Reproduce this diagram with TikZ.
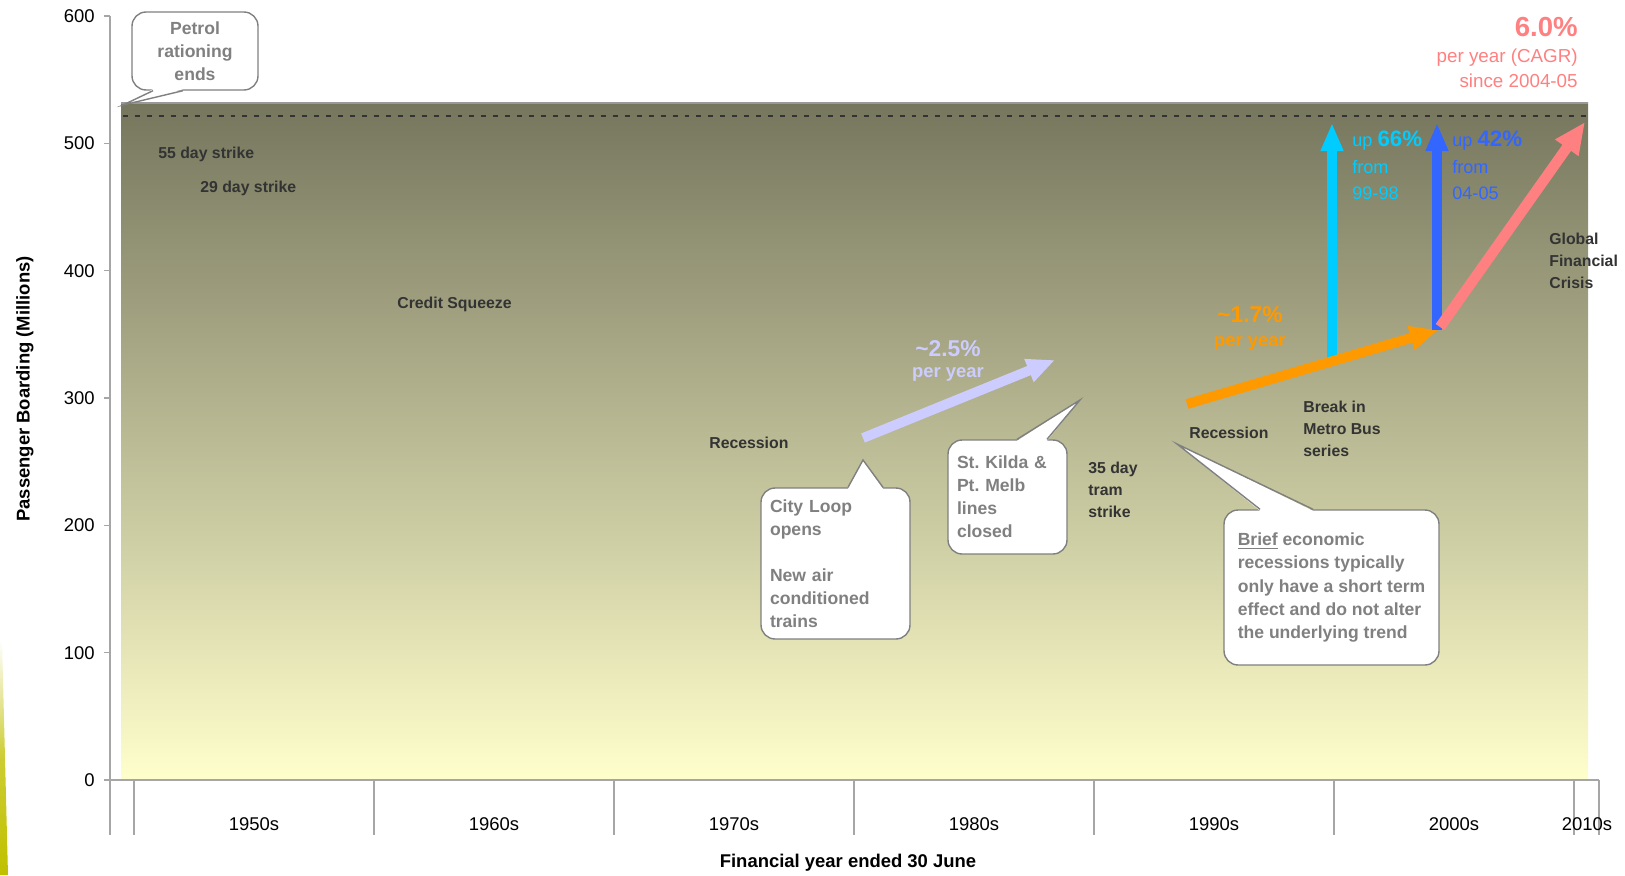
\documentclass[tikz,border=0pt]{standalone}
\usepackage{fontspec}
\setmainfont{Liberation Sans}
\usepackage{tikz}
\usetikzlibrary{arrows.meta,positioning}
\definecolor{darktext}{HTML}{333333}
\definecolor{calloutgray}{HTML}{808080}
\definecolor{axisgray}{HTML}{A6A6A6}
\definecolor{shadetop}{HTML}{76765E}
\definecolor{shadebot}{HTML}{FFFFCC}
\definecolor{ratelav}{HTML}{CCCCFF}
\definecolor{rateorange}{HTML}{FF9900}
\definecolor{ratecyan}{HTML}{00CCFF}
\definecolor{rateblue}{HTML}{3366FF}
\definecolor{ratepink}{HTML}{FF8080}
\definecolor{stripyellow}{HTML}{C0C000}

\begin{document}
\begin{tikzpicture}[x=0.02cm,y=-0.02cm,node distance=0.5cm,on grid,
  event/.style={font=\fontsize{9}{12.5}\selectfont\bfseries,text=darktext,align=left,anchor=north west,inner sep=0pt},
  callout/.style={draw=calloutgray,line width=0.8pt,fill=white,rounded corners=8pt,font=\fontsize{10}{13.1}\selectfont\bfseries,text=calloutgray,align=left},
  pointer/.style={draw=calloutgray,line width=0.8pt},
  ticklabel/.style={font=\fontsize{10.5}{12}\selectfont,inner sep=0pt},
  axistitle/.style={font=\fontsize{10.5}{12}\selectfont\bfseries,inner sep=0pt},
  trend/.style={line width=5.6pt,-{Triangle[length=16pt,width=13pt]}},
  rate/.style={font=\fontsize{13}{14}\selectfont\bfseries,inner sep=0pt},
  peryear/.style={font=\fontsize{10.5}{12}\selectfont\bfseries,inner sep=0pt},
  growth/.style={font=\fontsize{10.3}{15}\selectfont,align=left,anchor=north west,inner sep=0pt}]

\useasboundingbox (0,0) rectangle (1625,875);

% plot area
\shade[top color=shadetop,bottom color=shadebot] (121,103) rectangle (1588,780);
\draw[gray!80,line width=0.6pt] (121,103) -- (1588,103);
\draw[darktext,line width=1.6pt,dash pattern=on 2.8pt off 4pt] (123,116) -- (1588,116);
\shade[top color=white,bottom color=stripyellow,middle color=stripyellow!80] (0,640) -- (2,640) -- (8,875) -- (0,875) -- cycle;

% axes
\draw[axisgray,line width=0.85pt] (110,16) -- (110,835) (110,780) -- (1599,780);
\foreach \v in {0,100,...,600}{
  \draw[axisgray,line width=0.85pt] (104,{780-1.2733*\v}) -- (110,{780-1.2733*\v});
  \node[ticklabel,anchor=east] (tick\v) at (95,{780-1.2733*\v}) {\v};
}
\foreach \xs in {134,374,...,1574,1599}
  \draw[axisgray,line width=0.85pt] (\xs,780) -- (\xs,835);
\foreach \lbl/\xc in {1950s/254,1960s/494,1970s/734,1980s/974,1990s/1214,2000s/1454,2010s/1587}
  \node[ticklabel] (dec\lbl) at (\xc,824) {\lbl};
\node[axistitle] (xtitle) at (848,863) {Financial year ended 30 June};
\node[axistitle,rotate=90] (ytitle) at (25,389) {Passenger Boarding (Millions)};

% events
\node[event] (strike55) at (158,147) {55 day strike};
\node[event] (strike29) at (200,181) {29 day strike};
\node[event] (credit) at (397,297) {Credit Squeeze};
\node[event] (recess1) at (709,437) {Recession};
\node[event] (tram) at (1088,462) {35 day\\tram\\strike};
\node[event] (recess2) at (1189,427) {Recession};
\node[event] (metrobus) at (1303,401) {Break in\\Metro Bus\\series};
\node[event] (gfc) at (1549,233) {Global\\Financial\\Crisis};

% callouts
\node[callout,minimum width=2.52cm,minimum height=1.56cm,align=center] (petrol) at (195,51) {Petrol\\rationing\\ends};
\node[callout,text width=2.62cm,inner xsep=0.18cm,minimum height=3.02cm] (cityloop) at (835.5,563.5) {City Loop\\opens\\[13.1pt]New air\\conditioned\\trains};
\node[callout,text width=2.02cm,inner xsep=0.18cm,minimum height=2.28cm] (stkilda) at (1007.5,497) {St.\ Kilda \&\\Pt.\ Melb\\lines\\closed};
\node[callout,minimum width=4.3cm,minimum height=3.1cm] (brief) at (1331.5,587.5) {\underline{Brief} economic\\recessions typically\\only have a short term\\effect and do not alter\\the underlying trend};

\coordinate (petroltip) at (123,105);
\coordinate (citytip) at (863,460);
\coordinate (kildatip) at (1080,400);
\coordinate (brieftip) at (1177,444);
\fill[white] ([xshift=-0.84cm,yshift=0.03cm]petrol.south) -- (petroltip) -- ([xshift=-0.24cm,yshift=0.03cm]petrol.south) -- cycle;
\draw[pointer] ([xshift=-0.84cm]petrol.south) -- (petroltip) -- ([xshift=-0.24cm]petrol.south);
\fill[white] ([xshift=0.25cm,yshift=-0.03cm]cityloop.north) -- (citytip) -- ([xshift=0.95cm,yshift=-0.03cm]cityloop.north) -- cycle;
\draw[pointer] ([xshift=0.25cm]cityloop.north) -- (citytip) -- ([xshift=0.95cm]cityloop.north);
\fill[white] ([xshift=0.19cm,yshift=-0.03cm]stkilda.north) -- (kildatip) -- ([xshift=0.79cm,yshift=-0.03cm]stkilda.north) -- cycle;
\draw[pointer] ([xshift=0.19cm]stkilda.north) -- (kildatip) -- ([xshift=0.79cm]stkilda.north);
\fill[white] ([xshift=-1.43cm,yshift=-0.03cm]brief.north) -- (brieftip) -- ([xshift=-0.37cm,yshift=-0.03cm]brief.north) -- cycle;
\draw[pointer] ([xshift=-1.43cm]brief.north) -- (brieftip) -- ([xshift=-0.37cm]brief.north);

% trends
\coordinate (lav0) at (863,438);
\coordinate (lav1) at (1055,360);
\coordinate (orange0) at (1187,404);
\coordinate (orange1) at (1438,330);
\coordinate (cyan0) at (1332,360);
\coordinate (cyan1) at (1332,123);
\coordinate (blue0) at (1437,330);
\coordinate (blue1) at (1437,123);
\coordinate (pink0) at (1440,327);
\coordinate (pink1) at (1585,122);
\draw[trend,ratelav] (lav0) -- (lav1);
\draw[trend,ratecyan,-{Triangle[length=16pt,width=12pt]}] (cyan0) -- (cyan1);
\draw[trend,rateorange] (orange0) -- (orange1);
\draw[trend,rateblue,-{Triangle[length=16pt,width=12pt]}] (blue0) -- (blue1);
\draw[trend,ratepink,line width=6pt,-{Triangle[length=18pt,width=15pt]}] (pink0) -- (pink1);

\node[rate,text=ratelav] (lavrate) at (948,349) {\textasciitilde2.5\%};
\node[peryear,text=ratelav,below=of lavrate] (lavper) {per year};
\node[rate,text=rateorange] (orangerate) at (1250,315) {\textasciitilde1.7\%};
\node[peryear,text=rateorange,below=0.56cm of orangerate] (orangeper) {per year};
\node[growth,text=ratecyan] (cyanup) at (1352,131) {up {\fontsize{12.7}{15}\selectfont\bfseries 66\%}\\from\\99-98};
\node[growth,text=rateblue] (blueup) at (1452,131) {up {\fontsize{12.7}{15}\selectfont\bfseries 42\%}\\from\\04-05};
\node[font=\fontsize{15.7}{18}\selectfont\bfseries,text=ratepink,anchor=east,inner sep=0pt] (cagr) at (1578,27) {6.0\%};
\node[font=\fontsize{10.7}{13.7}\selectfont,text=ratepink,align=right,anchor=north east,inner sep=0pt] (since) at (1578,49) {per year (CAGR)\\since 2004-05};
\end{tikzpicture}
\end{document}
